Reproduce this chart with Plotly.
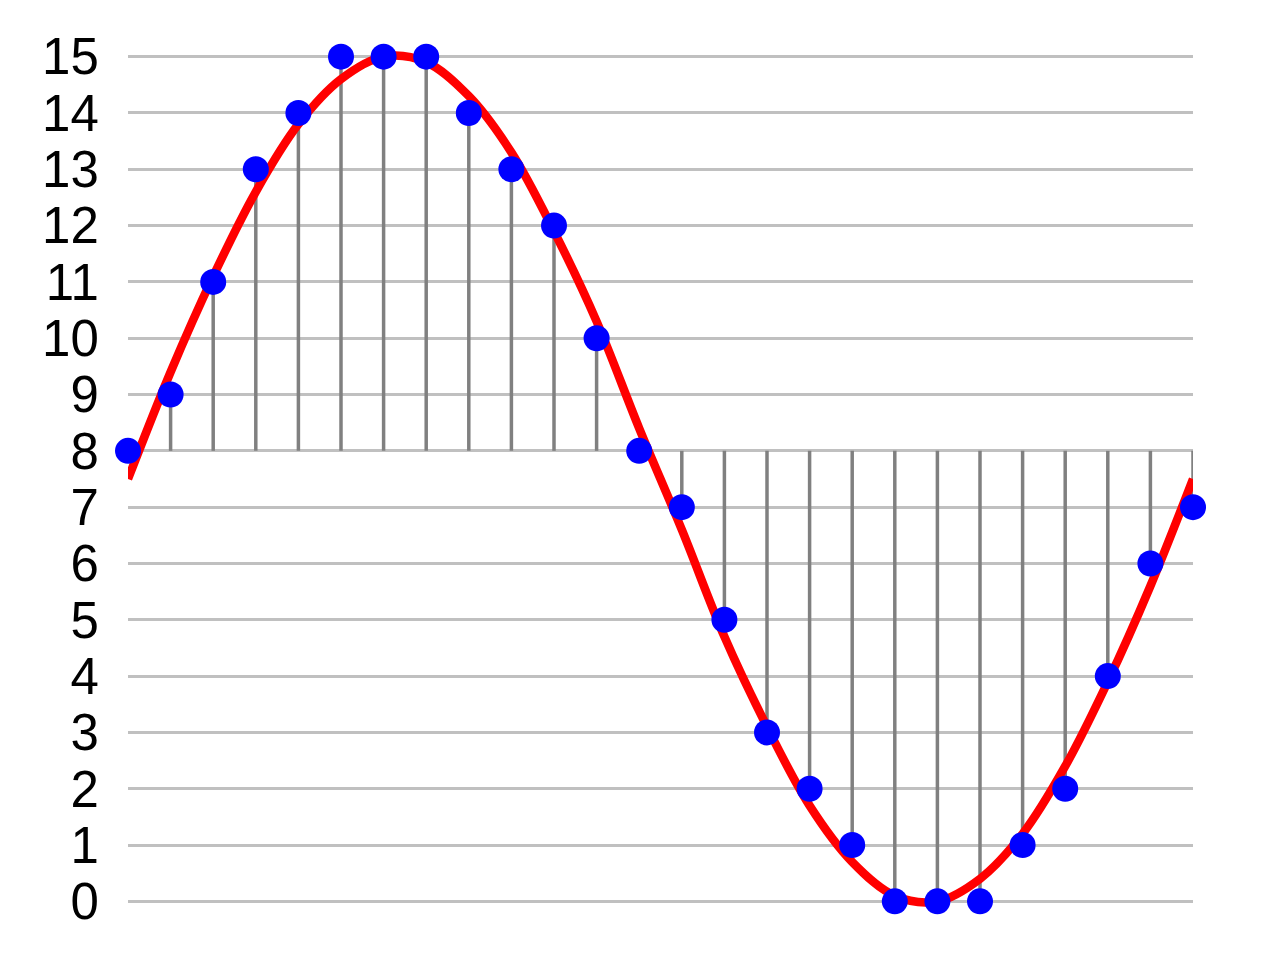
import plotly.graph_objects as go

# sample index and 4-bit quantized levels
samples = list(range(26))
levels = [8, 9, 11, 13, 14, 15, 15, 15, 14, 13, 12, 10, 8,
          7, 5, 3, 2, 1, 0, 0, 0, 1, 2, 4, 6, 7]
# analog signal read at the sample positions
signal = [7.5, 9.4, 11.1, 12.6, 13.8, 14.6, 15.0, 14.9, 14.3, 13.3, 11.9, 10.3, 8.4,
          6.6, 4.7, 3.1, 1.7, 0.7, 0.1, 0.0, 0.4, 1.2, 2.4, 3.9, 5.6, 7.5]
baseline = 8
yticks = list(range(16))

# stems from the baseline to each sample
stem_x, stem_y = [], []
for s, v in zip(samples, levels):
    stem_x += [s, s, None]
    stem_y += [baseline, v, None]

fig = go.Figure()
fig.add_trace(go.Scatter(x=stem_x, y=stem_y, mode='lines',
                         line=dict(color='#808080', width=3.5),
                         cliponaxis=False, hoverinfo='skip'))
fig.add_trace(go.Scatter(x=samples, y=signal, mode='lines',
                         line=dict(color='#ff0000', width=8.5, shape='spline'),
                         cliponaxis=False))
fig.add_trace(go.Scatter(x=samples, y=levels, mode='markers',
                         marker=dict(color='#0000ff', size=26),
                         cliponaxis=False))

# page body adds 8px, so margins are shifted by that;
# y range padded a bit so the 0 and 15 gridlines are drawn
fig.update_layout(
    width=1280, height=960,
    margin=dict(l=120, r=95, t=43, b=61),
    plot_bgcolor='white', paper_bgcolor='white',
    showlegend=False,
    font=dict(family='Liberation Sans, Arial, sans-serif', size=51, color='black'),
)
fig.update_xaxes(range=[0, 25], showgrid=False, zeroline=False,
                 showticklabels=False, showline=False)
fig.update_yaxes(range=[-0.1, 15.1], tickvals=yticks, showgrid=True,
                 gridcolor='#c0c0c0', gridwidth=3, zeroline=False,
                 showline=False, ticks='outside', ticklen=0,
                 ticklabelstandoff=18)

fig.write_html("out.html")
